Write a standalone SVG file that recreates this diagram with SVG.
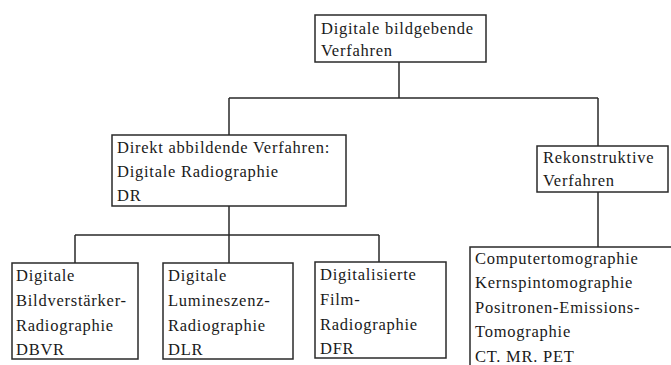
<svg xmlns="http://www.w3.org/2000/svg" width="671" height="365" viewBox="0 0 671 365">
<style>
.box{fill:none;stroke:#2a2a2a;stroke-width:1.5}
.ln{fill:none;stroke:#2a2a2a;stroke-width:1.5}
text{font-family:"Liberation Serif","Times New Roman",serif;font-size:16.5px;letter-spacing:0.75px;fill:#1a1a1a}
</style>
<rect width="671" height="365" fill="#ffffff"/>
<g id="connectors">
<path class="ln" d="M399,62 V98 M229,98 H598 M229,98 V135 M598,98 V146 M229,206 V235 M75,235 H379 M75,235 V263 M229,235 V263 M379,235 V262 M598,192 V247"/>
</g>
<g id="n-root">
<rect class="box" x="315" y="15" width="171" height="47"/>
<text x="321" y="34">Digitale bildgebende</text>
<text x="321" y="56">Verfahren</text>
</g>
<g id="n-dr">
<rect class="box" x="112" y="135" width="234" height="71"/>
<text x="117" y="153">Direkt abbildende Verfahren:</text>
<text x="117" y="177">Digitale Radiographie</text>
<text x="117" y="201">DR</text>
</g>
<g id="n-rek">
<rect class="box" x="537" y="146" width="131" height="46"/>
<text x="543" y="163">Rekonstruktive</text>
<text x="543" y="186">Verfahren</text>
</g>
<g id="n-dbvr">
<rect class="box" x="12" y="263" width="126" height="96"/>
<text x="16" y="281">Digitale</text>
<text x="16" y="306">Bildverstärker-</text>
<text x="16" y="331">Radiographie</text>
<text x="16" y="355">DBVR</text>
</g>
<g id="n-dlr">
<rect class="box" x="163" y="263" width="130" height="96"/>
<text x="168" y="281">Digitale</text>
<text x="168" y="306">Lumineszenz-</text>
<text x="168" y="331">Radiographie</text>
<text x="168" y="355">DLR</text>
</g>
<g id="n-dfr">
<rect class="box" x="315" y="262" width="131" height="96"/>
<text x="320" y="280">Digitalisierte</text>
<text x="320" y="305">Film-</text>
<text x="320" y="330">Radiographie</text>
<text x="320" y="354">DFR</text>
</g>
<g id="n-ct">
<path class="box" d="M672,247 H470 V366"/>
<text x="475" y="264">Computertomographie</text>
<text x="475" y="288">Kernspintomographie</text>
<text x="475" y="313">Positronen-Emissions-</text>
<text x="475" y="337">Tomographie</text>
<text x="475" y="362">CT. MR. PET</text>
</g>
</svg>
